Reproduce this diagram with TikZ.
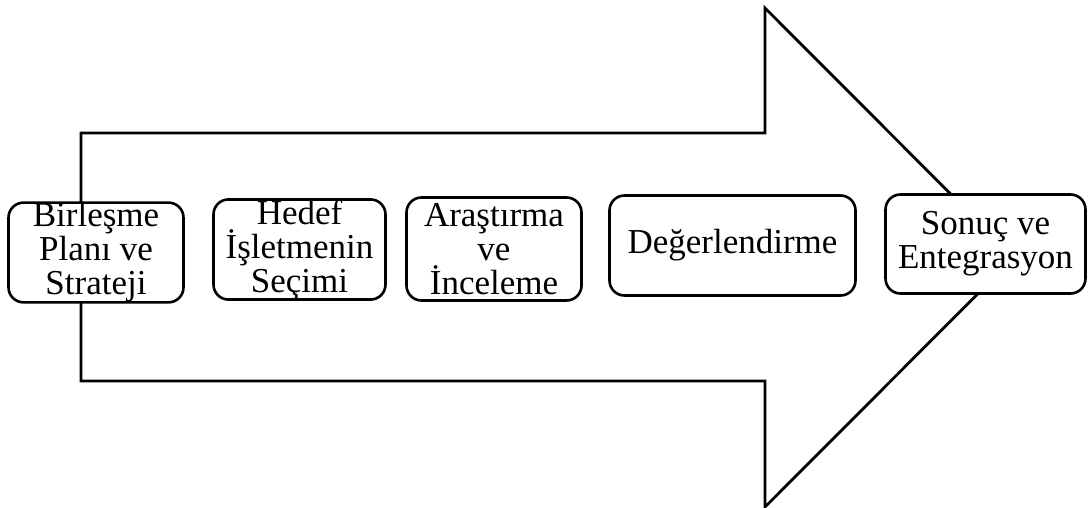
\documentclass[tikz,border=0pt]{standalone}
\usepackage{fontspec}
\setmainfont{Liberation Serif}
\begin{document}
\begin{tikzpicture}[x=1pt,y=-1pt,
  stagebox/.style={draw=black, fill=white, line width=2.6pt, rounded corners=15pt,
    inner sep=0pt, align=center, font=\fontsize{35}{34}\selectfont},
  bigarrow/.style={draw=black, fill=white, line width=2.8pt, line join=miter}]
\useasboundingbox (0,0) rectangle (1088,508);
% big arrow shape
\coordinate (bl) at (81,133);
\coordinate (bn) at (765,133);
\coordinate (ht) at (765,8);
\coordinate (tip) at (1014,257.5);
\coordinate (hb) at (765,507);
\coordinate (bs) at (765,381);
\coordinate (bbl) at (81,381);
\draw[bigarrow] (bl) -- (bn) -- (ht) -- (tip) -- (hb) -- (bs) -- (bbl) -- cycle;
% stages
\node[stagebox, minimum width=175pt, minimum height=96pt] (s1) at (96,252.5) {Birleşme\\Planı ve\\Strateji};
\node[stagebox, minimum width=172pt, minimum height=98pt] (s2) at (299.5,249.5) {Hedef\\İşletmenin\\Seçimi};
\node[stagebox, minimum width=175pt, minimum height=103pt] (s3) at (494,249) {Araştırma\\ve\\İnceleme};
\node[stagebox, minimum width=246pt, minimum height=100pt] (s4) at (732.5,245.5) {Değerlendirme};
\node[stagebox, minimum width=200pt, minimum height=99pt] (s5) at (985.5,244) {Sonuç ve\\Entegrasyon};
\end{tikzpicture}
\end{document}
